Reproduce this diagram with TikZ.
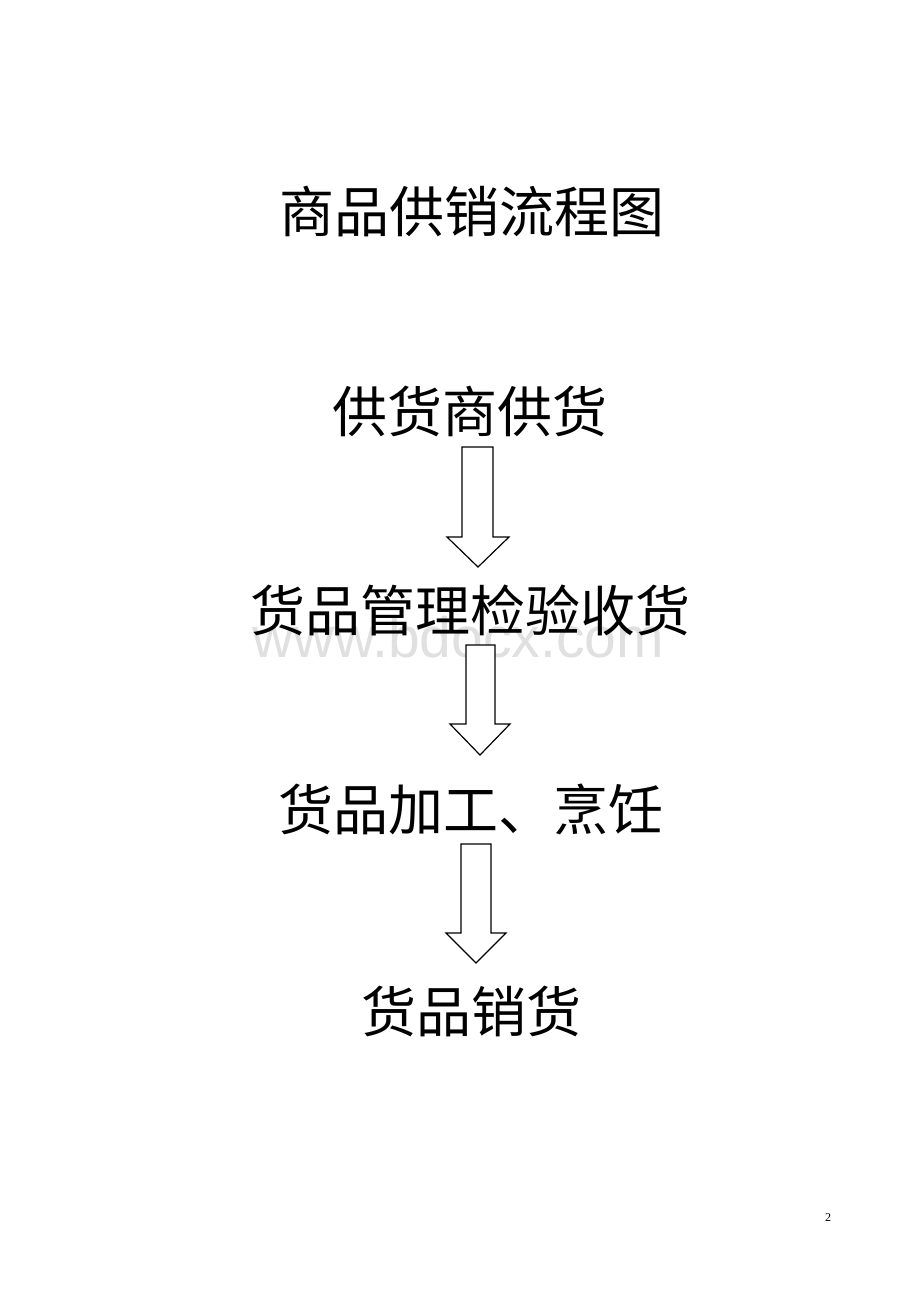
\documentclass[tikz,border=0pt]{standalone}
\usepackage{fontspec}
\setmainfont{Liberation Serif}
\newfontfamily\cjk{Noto Sans CJK SC}
\newfontfamily\wmfont{Liberation Sans}
\begin{document}
\begin{tikzpicture}[x=1pt,y=-1pt,
  label/.style={font=\cjk\fontsize{55}{62}\selectfont, inner sep=0pt, anchor=center},
  blk/.style={draw=black, line width=1.2pt, fill=white, line join=miter}]
\useasboundingbox (0,0) rectangle (920,1302);
\fill[white] (0,0) rectangle (920,1302);
% watermark
\node[font=\wmfont\fontsize{57}{60}\selectfont, text=black!12, inner sep=0pt] (wm) at (458,637) {www.bdocx.com};
% arrows
\draw[blk] (462,447) -- (493,447) -- (493,537) -- (509,537) -- (478,567) -- (447,537) -- (462,537) -- cycle;
\draw[blk] (466,645) -- (495,645) -- (495,724) -- (510,724) -- (480,755) -- (450,724) -- (466,724) -- cycle;
\draw[blk] (461,844) -- (491,844) -- (491,933) -- (506,933) -- (476,963) -- (446,933) -- (461,933) -- cycle;
% texts
\node[label] (title) at (472,211) {商品供销流程图};
\node[label] (s1) at (470,411) {供货商供货};
\node[label] (s2) at (470,610) {货品管理检验收货};
\node[label] (s3) at (471,809) {货品加工、烹饪};
\node[label] (s4) at (471,1011) {货品销货};
\node[font=\fontsize{12}{14}\selectfont, inner sep=0pt] (pg) at (828,1218) {2};
\end{tikzpicture}
\end{document}
